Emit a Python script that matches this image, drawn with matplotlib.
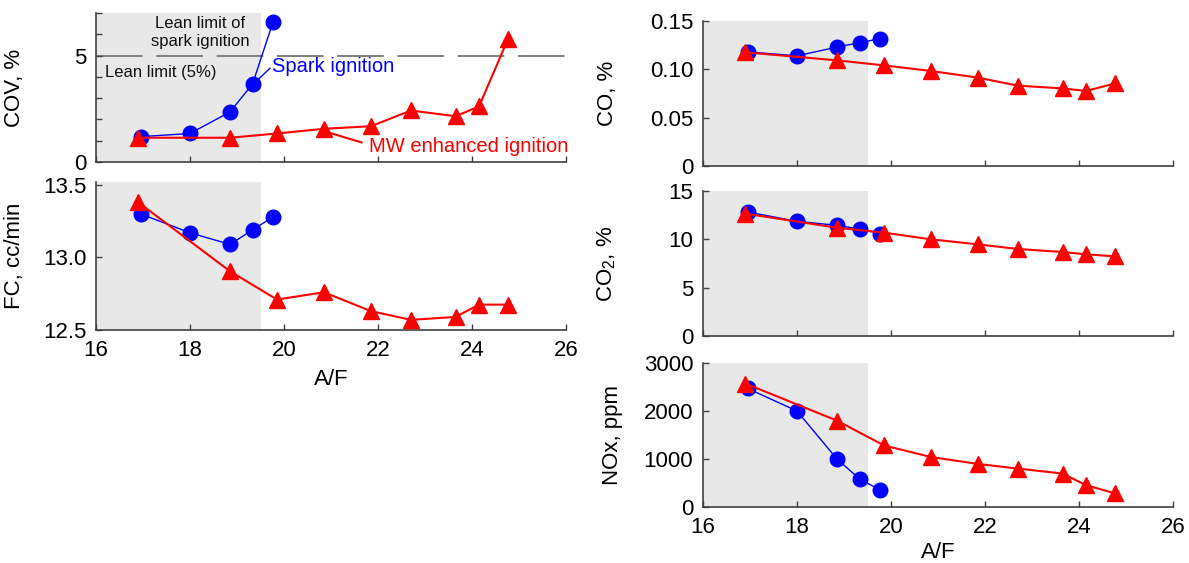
import matplotlib
matplotlib.use("Agg")
import matplotlib.pyplot as plt

plt.rcParams['font.family'] = ['Liberation Sans', 'DejaVu Sans']
plt.rcParams['mathtext.fontset'] = 'custom'
plt.rcParams['mathtext.rm'] = 'Liberation Sans'
plt.rcParams['mathtext.it'] = 'Liberation Sans:italic'

# ---- data ----
af_si = [16.95, 18.0, 18.85, 19.33, 19.77]
af_mw = [16.9, 18.85, 19.85, 20.85, 21.85, 22.7, 23.65, 24.15, 24.77]

cov_si = [1.19, 1.34, 2.35, 3.66, 6.6]
cov_mw = [1.14, 1.14, 1.34, 1.56, 1.68, 2.42, 2.15, 2.61, 5.8]

fc_si = [13.30, 13.17, 13.09, 13.19, 13.28]
fc_mw = [13.38, 12.905, 12.71, 12.76, 12.63, 12.57, 12.59, 12.675, 12.675]

co_si = [0.118, 0.114, 0.123, 0.1276, 0.1317]
co_mw = [0.1176, 0.1093, 0.1041, 0.0983, 0.0914, 0.0831, 0.0803, 0.0776, 0.0855]

co2_si = [12.83, 11.86, 11.45, 11.07, 10.59]
co2_mw = [12.66, 11.2, 10.69, 10.0, 9.48, 9.0, 8.69, 8.45, 8.24]

nox_si = [2469, 2000, 1000, 586, 352]
nox_mw = [2572, 1800, 1283, 1041, 897, 800, 697, 455, 283]

x_ticks = [16, 18, 20, 22, 24, 26]
lean_limit = 5
shade_max = 19.5

W, H = 1189, 563
fig = plt.figure(figsize=(W / 100, H / 100), dpi=100)


def make_ax(x0, y_top, y_bot, width=470):
    return fig.add_axes([x0 / W, 1 - y_bot / H, width / W, (y_bot - y_top) / H])


SPINE = '#404040'
FS = 16


def style(ax, ylim, yticks, yticklabels, show_x, ylabel, label_x, xpad=1):
    ax.set_xlim(16, 26)
    ax.set_ylim(*ylim)
    ax.axvspan(16, shade_max, color='#e8e8e8', zorder=0, lw=0)
    for s in ['top', 'right']:
        ax.spines[s].set_visible(False)
    for s in ['left', 'bottom']:
        ax.spines[s].set_color(SPINE)
        ax.spines[s].set_linewidth(1.2)
    ax.set_xticks(x_ticks)
    ax.set_yticks(yticks)
    ax.set_yticklabels(yticklabels)
    ax.tick_params(direction='in', length=4, width=1, color=SPINE,
                   labelsize=FS, pad=7)
    if not show_x:
        ax.set_xticklabels([])
    else:
        ax.set_xlabel('A/F', fontsize=FS, labelpad=xpad)
    ax.set_ylabel(ylabel, fontsize=FS)
    ax.yaxis.set_label_coords(label_x, 0.5)


def plot(ax, ysi, ymw):
    ax.plot(af_si, ysi, '-o', color='#0000ff', lw=1.0, ms=10.5, zorder=3)
    ax.plot(af_mw, ymw, '-^', color='#ff0000', lw=1.5, ms=11, zorder=4)


# COV
ax1 = make_ax(96, 13, 162)
style(ax1, (0, 7), range(0, 8), ['0', '', '', '', '', '5', '', ''], False,
      'COV, %', -0.15)
ax1.axhline(lean_limit, color='#7f7f7f', lw=1.4,
            linestyle=(0, (24, 7)), zorder=1)
plot(ax1, cov_si, cov_mw)
ax1.text(18.22, 6.85, 'Lean limit of\nspark ignition', ha='center', va='top',
         fontsize=12, linespacing=1.2, color='#111111')
ax1.text(16.2, 4.2, 'Lean limit (5%)', ha='left', va='center', fontsize=12,
         color='#111111')
ax1.text(19.74, 4.5, 'Spark ignition', ha='left', va='center', fontsize=14.5,
         color='#0000ff')
ax1.plot([19.46, 19.70], [3.9, 4.4], color='#0000ff', lw=1)
ax1.text(21.8, 0.75, 'MW enhanced ignition', ha='left', va='center',
         fontsize=14.5, color='#ff0000')
ax1.plot([21.0, 21.65], [1.35, 0.92], color='#ff0000', lw=1.5)

# FC
ax2 = make_ax(96, 182, 330)
style(ax2, (12.5, 13.52), [12.5, 13.0, 13.5], ['12.5', '13.0', '13.5'], True,
      'FC, cc/min', -0.15, xpad=6)
plot(ax2, fc_si, fc_mw)

# CO
ax3 = make_ax(703, 21, 166)
style(ax3, (0, 0.15), [0, 0.05, 0.10, 0.15], ['0', '0.05', '0.10', '0.15'],
      False, 'CO, %', -0.18)
plot(ax3, co_si, co_mw)

# CO2
ax4 = make_ax(703, 191, 336)
style(ax4, (0, 15), [0, 5, 10, 15], ['0', '5', '10', '15'], False,
      r'CO$_2$, %', -0.18)
plot(ax4, co2_si, co2_mw)

# NOx
ax5 = make_ax(703, 363, 507)
style(ax5, (0, 3000), [0, 1000, 2000, 3000], ['0', '1000', '2000', '3000'],
      True, 'NOx, ppm', -0.17, xpad=3)
plot(ax5, nox_si, nox_mw)

fig.savefig('out.png', dpi=100)
